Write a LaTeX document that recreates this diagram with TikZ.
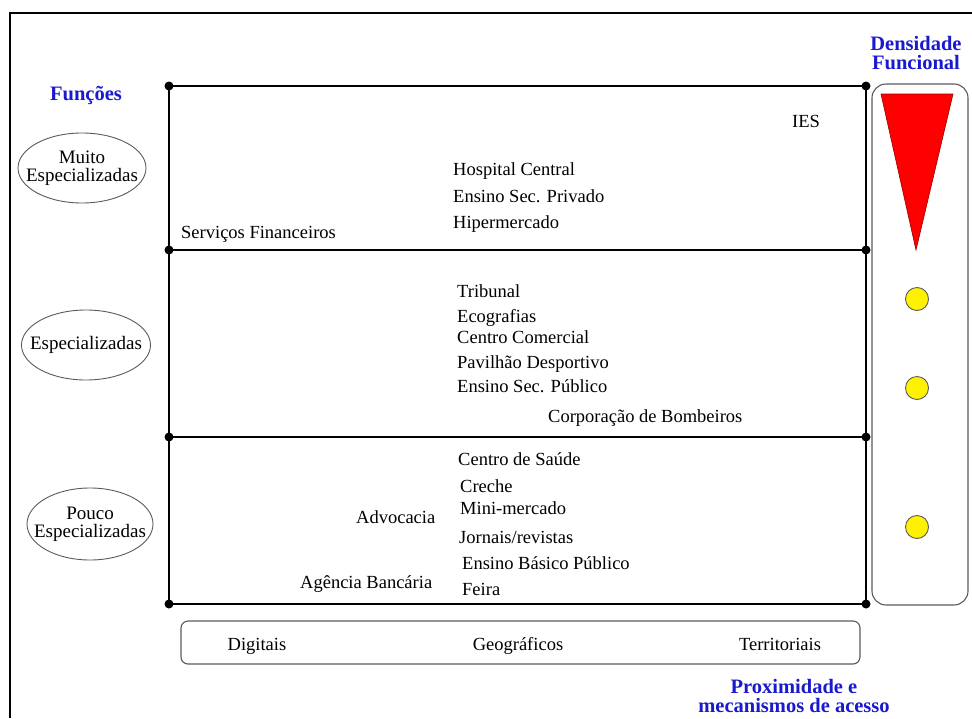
\documentclass[tikz,border=0pt]{standalone}
\usepackage{fontspec}
\setmainfont{Liberation Serif}
\usetikzlibrary{shapes.geometric}
\definecolor{lblblue}{RGB}{25,25,205}
\definecolor{boxgray}{RGB}{90,90,90}
\definecolor{tri}{RGB}{255,0,0}
\definecolor{tridark}{RGB}{150,0,0}
\begin{document}
\begin{tikzpicture}[x=1pt,y=-1pt,
  txt/.style={anchor=base west,inner sep=0pt,font=\fontsize{18.5}{20}\selectfont},
  ctxt/.style={anchor=base,inner sep=0pt,font=\fontsize{18.5}{20}\selectfont},
  blue label/.style={inner sep=0pt,align=center,text=lblblue,font=\fontsize{20.5}{19}\selectfont\bfseries},
  funcell/.style={draw=boxgray,line width=0.9pt,ellipse,inner sep=0pt},
  funtext/.style={inner sep=0pt,align=center,font=\fontsize{19}{18}\selectfont},
  gridline/.style={line width=1.9pt},
  dot/.style={circle,fill=black,inner sep=0pt,minimum size=9pt},
  yellowdot/.style={circle,draw=boxgray,fill=yellow,line width=0.9pt,inner sep=0pt,minimum size=23pt},
  panel/.style={draw=boxgray,line width=1.1pt,rounded corners=14pt},
  scalebox/.style={draw=boxgray,line width=1.1pt,rounded corners=7pt}
]
\useasboundingbox (0,0) rectangle (972,718);
% outer frame
\coordinate (fA) at (972,13);
\coordinate (fB) at (10,13);
\coordinate (fC) at (10,718);
\draw[line width=1.1pt] (fA) -- (fB) -- (fC);

% grid corners
\coordinate (l1) at (169,86);  \coordinate (r1) at (866,86);
\coordinate (l2) at (169,250); \coordinate (r2) at (866,250);
\coordinate (l3) at (169,437); \coordinate (r3) at (866,437);
\coordinate (l4) at (169,604); \coordinate (r4) at (866,604);
\draw[gridline] (l1) -- (r1) -- (r4) -- (l4) -- cycle;
\draw[gridline] (l2) -- (r2);
\draw[gridline] (l3) -- (r3);
\foreach \p in {l1,r1,l2,r2,l3,r3,l4,r4} \node[dot] (d\p) at (\p) {};

% right panel
\draw[panel] (872,84) rectangle (968,605);
\coordinate (tA) at (881,94);
\coordinate (tB) at (953,94);
\coordinate (tC) at (916,250);
\draw[draw=tridark,fill=tri,line width=0.6pt,line join=miter] (tA) -- (tB) -- (tC) -- cycle;
\node[yellowdot] (y1) at (917,299) {};
\node[yellowdot] (y2) at (917,388) {};
\node[yellowdot] (y3) at (917,527) {};

% bottom scale box
\draw[scalebox] (181,621) rectangle (860,664);
\node[ctxt] (dig) at (257,650) {Digitais};
\node[ctxt] (geo) at (518,650) {Geográficos};
\node[ctxt] (ter) at (780,650) {Territoriais};

% blue labels
\node[blue label,anchor=base] (fun) at (86,100) {Funções};
\node[blue label] (den) at (916,53) {Densidade\\Funcional};
\node[blue label] (prox) at (794,696) {Proximidade e\\mecanismos de acesso};

% ellipses
\node[funcell,minimum width=128pt,minimum height=70pt] (e1) at (82,168) {};
\node[funtext] (e1t) at (e1.center) {Muito\\Especializadas};
\node[funcell,minimum width=129pt,minimum height=70pt] (e2) at (86,345) {};
\node[funtext] (e2t) at (e2.center) {Especializadas};
\node[funcell,minimum width=126pt,minimum height=72pt] (e3) at (90,524) {};
\node[funtext] (e3t) at (e3.center) {Pouco\\Especializadas};

% texts in top band
\node[ctxt] (ies) at (806,127) {IES};
\node[txt] (hc) at (453,175) {Hospital Central};
\node[txt] (esp) at (453,202) {Ensino Sec. Privado};
\node[txt] (hip) at (453,228) {Hipermercado};
\node[txt] (sf) at (181,238) {Serviços Financeiros};

% middle band
\node[txt] (tri) at (457,297) {Tribunal};
\node[txt] (eco) at (457,322) {Ecografias};
\node[txt] (cc) at (457,343) {Centro Comercial};
\node[txt] (pd) at (457,368) {Pavilhão Desportivo};
\node[txt] (espu) at (457,392) {Ensino Sec. Público};
\node[txt] (cb) at (548,422) {Corporação de Bombeiros};

% bottom band
\node[txt] (cs) at (458,465) {Centro de Saúde};
\node[txt] (cre) at (460,492) {Creche};
\node[txt] (mm) at (460,514) {Mini-mercado};
\node[txt] (jr) at (459,543) {Jornais/revistas};
\node[txt] (ebp) at (462,569) {Ensino Básico Público};
\node[txt] (fei) at (462,595) {Feira};
\node[txt] (adv) at (356,523) {Advocacia};
\node[txt] (ab) at (300,588) {Agência Bancária};
\end{tikzpicture}
\end{document}
